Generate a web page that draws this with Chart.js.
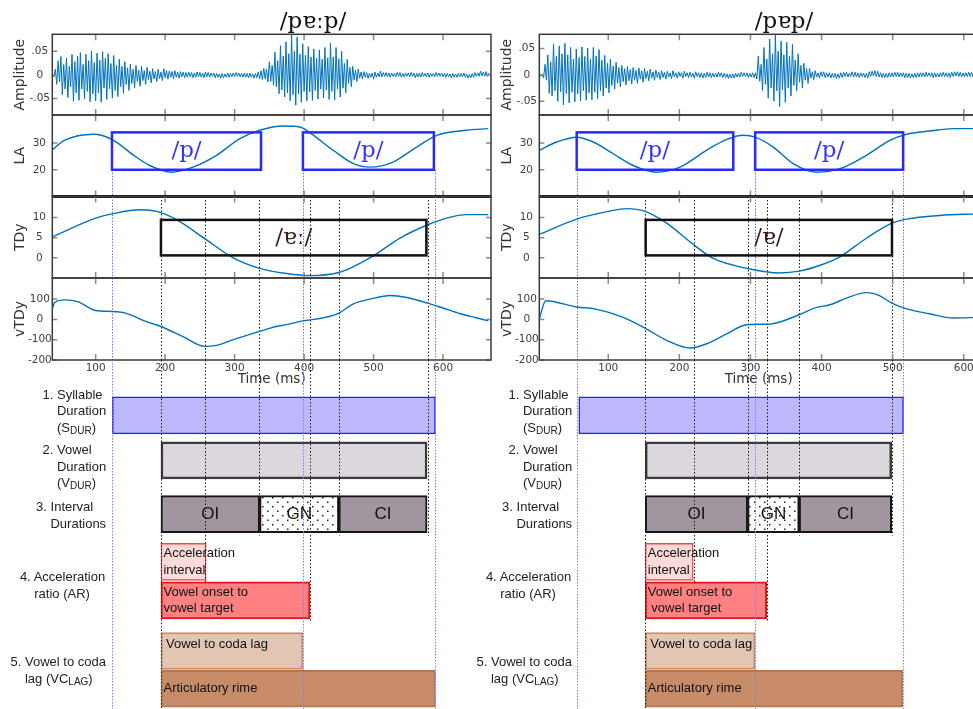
<!DOCTYPE html>
<html>
<head>
<meta charset="utf-8">
<script src="https://cdn.jsdelivr.net/npm/chart.js@4.4.1/dist/chart.umd.min.js"></script>
<style>
  html, body { margin: 0; padding: 0; background: #fff; }
  #fig { position: relative; width: 973px; height: 709px; overflow: hidden; background: #fff; }
  #fig canvas { position: absolute; top: 0; }
  .word { position: absolute; font: 23px "DejaVu Serif", serif; color: #111; transform: translate(-50%, -50%); white-space: nowrap; }
  .rowlab { position: absolute; font: 13px "Liberation Sans", Arial, sans-serif; color: #222; line-height: 16.5px;
            padding-left: 14.4px; text-indent: -14.4px; white-space: nowrap; }
  .rowlab sub { font-size: 10px; vertical-align: -2px; line-height: 0; }
</style>
</head>
<body>
<div id="fig"></div>
<script>
// ---------- shared ticks ----------
const timeTicks = [100, 200, 300, 400, 500, 600];
const ampTicks = [-50, 0, 50];            // amplitude in thousandths
const laTicks = [20, 30];
const tdyTicks = [0, 5, 10];
const vtdyTicks = [-200, -100, 0, 100];

// ---------- /pɐːp/ (left) ----------
const ampStartLong = 38, ampStepLong = 2;
const ampLong = [
  1, -4, 12, -20, 30, -15, 39, -42, 22, -30,
  36, -48, 18, -25, 43, -56, 28, -38, 40, -54,
  47, -30, 22, -51, 44, -35, 30, -57, 50, -40,
  26, -55, 46, -38, 31, -58, 49, -28, 35, -52,
  45, -30, 24, -49, 41, -33, 20, -46, 33, -25,
  18, -39, 28, -20, 15, -33, 23, -18, 12, -28,
  20, -14, 10, -24, 18, -12, 9, -20, 16, -10,
  8, -17, 13, -9, 7, -14, 12, -8, 6, -12,
  13, -6, 9, -9, 8, -5, 7, -8, 9, -5,
  6, -7, 7, -4, 6, -6, 5, -5, 6, -4,
  5, -6, 4, -5, 6, -4, 5, -5, 4, -6,
  6, -4, 5, -5, 4, -3, 4, -6, 3, -5,
  2, -7, 3, -6, 2, -5, 4, -5, 3, -4,
  4, -4, 5, -3, 4, -4, 3, -5, 4, -5,
  3, -6, 4, -5, 2, -7, 3, -6, 6, -8,
  9, -10, 14, -9, 12, -15, 28, -14, 20, -22,
  48, -25, 30, -40, 62, -32, 40, -47, 70, -38,
  45, -55, 85, -42, 50, -64, 80, -40, 44, -58,
  66, -35, 42, -55, 60, -36, 38, -54, 55, -33,
  35, -51, 53, -30, 33, -49, 58, -32, 36, -52,
  67, -35, 38, -53, 58, -30, 34, -47, 50, -28,
  24, -38, 33, -18, 16, -25, 18, -11, 10, -14,
  12, -7, 6, -9, 7, -5, 5, -7, 3, -5,
  4, -9, 6, -5, 4, -4, 8, -4, 5, -3,
  5, -4, 4, -5, 4, -3, 3, -4, 5, -3,
  5, -5, 3, -4, 4, -3, 4, -4, 5, -3,
  4, -6, 3, -4, 4, -5, 5, -3, 3, -4,
  4, -5, 3, -3, 3, -4, 5, -3, 4, -3,
  4, -4, 3, -5, 3, -4, 2, -6, 3, -5,
  2, -5, 3, -4, 3, -4, 4, -5, 2, -7,
  1, -6, 3, -5, 5, -3, 4, -3, 8, -2,
  6, -3, 7, -3, 4
];
const laTimeLong = [38, 55, 97, 124, 155, 178, 209, 240, 274, 307, 336, 370, 394, 410, 442, 471, 495, 528, 562, 591, 634, 665];
const laLong = [27.6, 31.0, 33.3, 31.3, 25.4, 21.6, 19.1, 21.0, 25.4, 31.6, 34.8, 36.4, 36.0, 33.5, 27.3, 22.3, 21.0, 22.9, 28.5, 32.9, 34.8, 35.4];
const tdyTimeLong = [39, 100, 124, 164, 188, 217, 257, 298, 336, 375, 408, 449, 471, 499, 538, 578, 605, 634, 665];
const tdyLong = [5.3, 9.85, 10.9, 11.9, 11.5, 9.4, 4.75, 0, -2.6, -3.9, -4.4, -3.7, -2.2, 0.4, 4.9, 8.2, 9.85, 10.7, 10.7];
const vtdyTimeLong = [38, 41, 55, 74, 100, 124, 143, 172, 194, 225, 257, 274, 298, 336, 360, 375, 398, 427, 450, 471, 495, 524, 548, 578, 600, 625, 649, 665];
const vtdyLong = [56, 83, 96, 88, 44, 39, 31, -10, -35, -84, -133, -128, -100, -59, -35, -26, -7, 7, 31, 77, 100, 118, 108, 80, 56, 28, 7, -7];
const pGesturesLong = [[123.5, 338], [398.3, 586.8]];
const vowelGestureLong = [194, 576];
const blueLinesLong = [123.5, 398.3, 588.6];
const blackLinesLong = [194, 257.3, 335, 408.8, 450, 577.7];
const blackEndsLong = ['rime', 'accel', 'interval', 'onset', 'interval', 'interval'];

// ---------- /pɐp/ (right) ----------
const ampStartShort = 3, ampStepShort = 2;
const ampShort = [
  0, -3, 2, -6, 20, -10, 38, -35, 25, -40,
  58, -30, 35, -50, 55, -32, 40, -57, 60, -35,
  38, -53, 52, -33, 30, -51, 49, -36, 33, -49,
  53, -30, 35, -48, 51, -34, 30, -47, 52, -33,
  36, -45, 48, -30, 28, -40, 37, -25, 22, -34,
  30, -20, 17, -27, 24, -16, 14, -23, 18, -13,
  12, -19, 16, -11, 10, -17, 14, -10, 9, -16,
  13, -8, 8, -14, 12, -7, 7, -11, 11, -6,
  6, -10, 9, -5, 5, -9, 8, -5, 5, -8,
  7, -4, 4, -7, 8, -4, 4, -6, 6, -3,
  4, -6, 7, -3, 4, -5, 5, -4, 3, -6,
  6, -3, 4, -5, 4, -6, 3, -5, 5, -4,
  4, -5, 3, -4, 3, -4, 5, -3, 4, -5,
  3, -5, 2, -7, 1, -6, 2, -6, 3, -4,
  3, -4, 5, -3, 4, -3, 4, -5, 3, -4,
  4, -5, 4, -8, 36, -12, 20, -30, 52, -18,
  30, -44, 68, -25, 40, -50, 75, -30, 45, -60,
  64, -28, 38, -52, 62, -25, 35, -40, 58, -20,
  28, -30, 40, -14, 18, -25, 22, -10, 12, -16,
  12, -6, 6, -9, 8, -4, 4, -6, 6, -3,
  6, -5, 4, -4, 4, -6, 3, -5, 3, -7,
  2, -6, 4, -5, 5, -3, 5, -4, 3, -3,
  6, -4, 5, -4, 4, -5, 4, -3, 3, -5,
  3, -6, 6, -3, 7, -2, 8, -3, 7, -4,
  4, -5, 3, -5, 3, -5, 4, -4, 4, -4,
  5, -3, 5, -4, 4, -3, 4, -5, 3, -5,
  3, -6, 2, -5, 3, -5, 4, -4, 4, -3,
  4, -4, 5, -3, 4, -3, 4, -5, 4, -4,
  3, -4, 4, -3, 5, -3, 4, -4, 4, -5,
  5, -3, 6, -2, 6, -3, 5, -4, 4, -3,
  4, -3, 5, -3, 5, -4, 4, -3, 3
];
const laTimeShort = [3, 27.5, 55.6, 79, 107, 135, 168, 201, 238, 266, 290, 306.6, 332, 360, 393, 426, 463, 496, 519.5, 552, 585, 620];
const laShort = [27.3, 30.4, 32.2, 30.4, 26, 21.6, 19.1, 21, 27.3, 31.3, 32.9, 32.2, 28.5, 22.3, 19.1, 20.4, 25.4, 31.0, 33.3, 34.5, 35.4, 35.4];
const tdyTimeShort = [3, 55.6, 100, 126, 151.6, 182, 220.5, 247.6, 296, 341, 368.5, 402, 425.7, 463, 498.8, 519.5, 566, 620];
const tdyShort = [5.8, 9.6, 11.5, 12.2, 11.5, 8.6, 3.2, -0.15, -2.65, -3.75, -3.3, -1.6, 0.25, 4.85, 8.6, 9.6, 10.5, 10.9];
const vtdyTimeShort = [3, 12, 55.6, 81, 121, 151.6, 182, 215, 238.4, 266.6, 295, 327.5, 368.5, 393, 411.7, 435, 463, 482, 498.8, 519.5, 552, 585, 620];
const vtdyShort = [2, 92, 61, 52, 10, -43, -103, -141, -120, -71, -26, -23, 23, 59, 72, 105, 132, 116, 80, 52, 28, 7, 10];
const pGesturesShort = [[55.6, 275.8], [306.6, 514.7]];
const vowelGestureShort = [152.6, 499];
const blueLinesShort = [55.6, 306.6, 514.7];
const blackLinesShort = [151.6, 220.5, 296, 323.6, 368.5, 498.8];
const blackEndsShort = ['rime', 'accel', 'interval', 'onset', 'interval', 'interval'];

// ---------- measures (bottom diagram) ----------
const measureNames = ['Syllable duration', 'Vowel duration', 'OI', 'GN', 'CI',
  'Acceleration interval', 'Vowel onset to vowel target', 'Vowel to coda lag', 'Articulatory rime'];
const measureRows = ['syll', 'vowel', 'interval', 'interval', 'interval', 'accel', 'onset', 'lag', 'rime'];
const measuresLong = [[124, 589], [194, 577], [194, 336], [336, 450], [450, 577], [194, 259], [194, 408.5], [194, 398.5], [194, 589]];
const measuresShort = [[58.6, 515.3], [152, 498.6], [152, 296], [296, 368.5], [368.5, 498.6], [152, 219.5], [152, 322.8], [152, 306.6], [152, 514]];
const measureTextLong = [null, null, ['OI'], ['GN'], ['CI'], ['Acceleration', 'interval'], ['Vowel onset to', 'vowel target'], ['Vowel to coda lag'], ['Articulatory rime']];
const measureTextShort = [null, null, ['OI'], ['GN'], ['CI'], ['Acceleration', 'interval'], ['Vowel onset to', ' vowel target'], ['Vowel to coda lag'], ['Articulatory rime']];
const rowLabels = [
  '1. Syllable<br>Duration<br>(S<sub>DUR</sub>)',
  '2. Vowel<br>Duration<br>(V<sub>DUR</sub>)',
  '3. Interval<br>Durations',
  '4. Acceleration<br>ratio (AR)',
  '5. Vowel to coda<br>lag (VC<sub>LAG</sub>)'
];

// ---------- layout & style ----------
const W = 500, H = 709, AXIS_W = 52.3, PLOT_R = 491, X_AXIS_H = 30;
const bands = { amp: [34.3, 115], la: [115, 196.5], tdy: [196.5, 278], vtdy: [278, 360] };
const BAR_TOP = 378.3, BAR_H = 37, ROW_MAX = -1 + (H - BAR_TOP) / BAR_H;
const rowLevel = { syll: 0, vowel: 1.22, interval: 2.67, accel: 3.96, onset: 5.0, lag: 6.37, rime: 7.39 };
const rowLabelPos = [[57, 395], [57, 450.7], [50.5, 507.7], [34.3, 577.7], [25, 662.7]];
const pBoxRange = [20, 34], vowelBoxRange = [0.6, 9.4];
const LINE_BLUE = '#0072bd';
const measureFill = ['#bdb7fc', '#dbd7dc', '#a1959f', 'dots', '#a1959f', '#fcdada', '#ff8181', '#e3c5b4', '#c88c68'];
const measureEdge = ['#2a20f5', '#3c3c3c', '#151515', '#151515', '#151515', '#f04848', '#e01818', '#c98d69', '#b9764f'];
const measureEdgeW = [1.5, 2.5, 2, 2, 2, 1.5, 2, 2, 2];

const panels = [
  { word: '/pɐːp/', wordX: 313, left: 0, xMin: 37.6, xMax: 669, ampRange: [-85, 86],
    amp: ampLong, ampStart: ampStartLong, ampStep: ampStepLong,
    laT: laTimeLong, la: laLong, tdyT: tdyTimeLong, tdy: tdyLong, vT: vtdyTimeLong, v: vtdyLong,
    pGestures: pGesturesLong, vowelGesture: vowelGestureLong, vowelLabel: '/ɐː/',
    blue: blueLinesLong, black: blackLinesLong, blackEnds: blackEndsLong,
    measures: measuresLong, texts: measureTextLong, labelShift: 0 },
  { word: '/pɐp/', wordX: 784, left: 487, xMin: 3, xMax: 620, ampRange: [-76, 77],
    amp: ampShort, ampStart: ampStartShort, ampStep: ampStepShort,
    laT: laTimeShort, la: laShort, tdyT: tdyTimeShort, tdy: tdyShort, vT: vtdyTimeShort, v: vtdyShort,
    pGestures: pGesturesShort, vowelGesture: vowelGestureShort, vowelLabel: '/ɐ/',
    blue: blueLinesShort, black: blackLinesShort, blackEnds: blackEndsShort,
    measures: measuresShort, texts: measureTextShort, labelShift: 466 }
];

Chart.defaults.font.family = '"DejaVu Sans", sans-serif';
Chart.defaults.color = '#404040';

const fig = document.getElementById('fig');
function addCanvas(left) {
  const c = document.createElement('canvas');
  c.width = W; c.height = H;
  c.style.left = left + 'px'; c.style.width = W + 'px'; c.style.height = H + 'px';
  fig.appendChild(c);
  return c;
}

function dotted(ctx, x, y0, y1, color, dash) {
  ctx.save();
  ctx.strokeStyle = color; ctx.lineWidth = 1; ctx.setLineDash(dash);
  ctx.beginPath(); ctx.moveTo(Math.round(x) + 0.5, y0); ctx.lineTo(Math.round(x) + 0.5, y1); ctx.stroke();
  ctx.restore();
}

// frame, inward ticks, landmark lines and gesture boxes of one signal panel
const signalDecor = {
  id: 'decor',
  beforeDatasetsDraw(chart, args, o) {
    const { ctx, chartArea: a, scales: { x, y } } = chart;
    ctx.save();
    ctx.beginPath(); ctx.rect(a.left, a.top, a.width, a.height); ctx.clip();
    (o.black || []).forEach(t => dotted(ctx, x.getPixelForValue(t), a.top, a.bottom, '#1a1a1a', [1.5, 2]));
    const y0 = o.blueFrom == null ? a.top : y.getPixelForValue(o.blueFrom);
    (o.blue || []).forEach(t => dotted(ctx, x.getPixelForValue(t), y0, a.bottom, '#6a6aff', [1.5, 1.5]));
    ctx.restore();
  },
  afterDatasetsDraw(chart, args, o) {
    const { ctx, chartArea: a, scales: { x, y } } = chart;
    ctx.save();
    (o.boxes || []).forEach(b => {
      const x0 = x.getPixelForValue(b.x[0]), x1 = x.getPixelForValue(b.x[1]);
      const y0 = y.getPixelForValue(b.y[1]), y1 = y.getPixelForValue(b.y[0]);
      ctx.lineWidth = 2.5; ctx.strokeStyle = b.color;
      ctx.strokeRect(x0, y0, x1 - x0, y1 - y0);
      ctx.fillStyle = b.textColor; ctx.font = '23px "DejaVu Serif", serif';
      ctx.textAlign = 'center'; ctx.textBaseline = 'middle';
      ctx.fillText(b.text, (x0 + x1) / 2, (y0 + y1) / 2);
    });
    ctx.strokeStyle = '#8a8a8a'; ctx.lineWidth = 1.5;
    ctx.beginPath();
    timeTicks.forEach(t => {
      const px = x.getPixelForValue(t);
      if (px < a.left || px > a.right) return;
      ctx.moveTo(px, a.top); ctx.lineTo(px, a.top + 6);
      ctx.moveTo(px, a.bottom); ctx.lineTo(px, a.bottom - 6);
    });
    o.yTicks.forEach(v => {
      const py = y.getPixelForValue(v);
      ctx.moveTo(a.left, py); ctx.lineTo(a.left + 5, py);
      ctx.moveTo(a.right, py); ctx.lineTo(a.right - 5, py);
    });
    ctx.stroke();
    ctx.strokeStyle = '#3a3a3a'; ctx.lineWidth = 1.5;
    ctx.strokeRect(a.left, a.top, a.width, a.height);
    if (o.heavyBottom) {
      ctx.strokeStyle = '#222'; ctx.lineWidth = 3;
      ctx.beginPath(); ctx.moveTo(a.left, a.bottom); ctx.lineTo(a.right, a.bottom); ctx.stroke();
    }
    ctx.restore();
  }
};

function signalChart(p, band, cfg) {
  const showX = !!cfg.showX;
  return new Chart(addCanvas(p.left), {
    type: 'line',
    data: { datasets: [{
      data: cfg.points, borderColor: LINE_BLUE, borderWidth: cfg.lw, pointRadius: 0,
      tension: 0, cubicInterpolationMode: cfg.smooth ? 'monotone' : 'default'
    }] },
    options: {
      responsive: false, animation: false, devicePixelRatio: 1, events: [],
      layout: { padding: { left: 0, right: W - PLOT_R, top: band[0], bottom: H - band[1] - (showX ? X_AXIS_H : 0) } },
      plugins: { legend: { display: false }, tooltip: { enabled: false }, decor: cfg.decor },
      scales: {
        x: {
          type: 'linear', min: p.xMin, max: p.xMax, display: showX,
          afterBuildTicks: s => { s.ticks = timeTicks.map(v => ({ value: v })); },
          afterFit: s => { s.height = showX ? X_AXIS_H : 0; },
          grid: { display: false, drawTicks: false }, border: { display: false },
          ticks: { padding: 2, font: { size: 10.5 }, color: '#404040', maxRotation: 0 },
          title: { display: true, text: 'Time (ms)', font: { size: 13.5 }, color: '#333', padding: { top: 0, bottom: 2 } }
        },
        y: {
          type: 'linear', min: cfg.range[0], max: cfg.range[1],
          afterBuildTicks: s => { s.ticks = cfg.ticks.map(v => ({ value: v })); },
          afterFit: s => { s.width = AXIS_W; },
          grid: { display: false, drawTicks: false }, border: { display: false },
          ticks: { padding: cfg.tickPad, crossAlign: 'center', font: { size: 10.5 }, color: '#404040',
                   callback: cfg.fmt || (v => String(v)) },
          title: { display: true, text: cfg.title, font: { size: 14 }, color: '#333', padding: { top: 11.5, bottom: 0 } }
        }
      }
    },
    plugins: [signalDecor]
  });
}

// landmark lines, labels inside bars
const barDecor = {
  id: 'bardecor',
  afterDatasetsDraw(chart, args, o) {
    const { ctx, scales: { x, y } } = chart;
    const bottomOf = row => y.getPixelForValue(rowLevel[row]) + BAR_H / 2 + 3;
    o.black.forEach((t, i) => dotted(ctx, x.getPixelForValue(t), bands.vtdy[1], bottomOf(o.blackEnds[i]), '#1a1a1a', [1.5, 2]));
    o.blue.forEach(t => dotted(ctx, x.getPixelForValue(t), bands.vtdy[1], H, '#7b7bff', [1.5, 1.5]));
    const meta = chart.getDatasetMeta(0);
    ctx.save();
    ctx.fillStyle = '#111'; ctx.textBaseline = 'middle';
    meta.data.forEach((el, i) => {
      const lines = o.texts[i];
      if (!lines) return;
      const left = Math.min(el.x, el.base), right = Math.max(el.x, el.base);
      if (measureRows[i] === 'interval') {
        ctx.font = '17px "Liberation Sans", Arial, sans-serif'; ctx.textAlign = 'center';
        ctx.fillText(lines[0], (left + right) / 2, el.y);
        return;
      }
      ctx.font = '13px "Liberation Sans", Arial, sans-serif'; ctx.textAlign = 'left';
      const lag = measureRows[i] === 'lag';
      const y0 = lag ? el.y - BAR_H / 2 + 12 : el.y - (lines.length - 1) * 16.3 / 2;
      lines.forEach((s, k) => ctx.fillText(s, left + (lag ? 5 : 2.5), y0 + k * 16.3));
    });
    ctx.restore();
  }
};

const dotTile = document.createElement('canvas');
dotTile.width = 10; dotTile.height = 9;
(() => {
  const g = dotTile.getContext('2d');
  g.fillStyle = '#fff'; g.fillRect(0, 0, 10, 9);
  g.fillStyle = '#222'; g.fillRect(2, 2, 1.5, 1.5); g.fillRect(7, 6.5, 1.5, 1.5);
})();

function barChart(p) {
  const canvas = addCanvas(p.left);
  const dots = canvas.getContext('2d').createPattern(dotTile, 'repeat');
  return new Chart(canvas, {
    type: 'bar',
    data: {
      labels: measureNames,
      datasets: [{
        data: p.measures.map((m, i) => ({ x: m, y: rowLevel[measureRows[i]] })),
        backgroundColor: measureFill.map(f => f === 'dots' ? dots : f),
        borderColor: measureEdge, borderWidth: measureEdgeW, borderSkipped: false,
        barThickness: BAR_H, grouped: false
      }]
    },
    options: {
      indexAxis: 'y', responsive: false, animation: false, devicePixelRatio: 1, events: [],
      layout: { padding: { left: AXIS_W, right: W - PLOT_R, top: BAR_TOP, bottom: 0 } },
      plugins: { legend: { display: false }, tooltip: { enabled: false },
        bardecor: { blue: p.blue, black: p.black, blackEnds: p.blackEnds, texts: p.texts } },
      scales: {
        x: { type: 'linear', min: p.xMin, max: p.xMax, display: false, offset: false },
        y: { type: 'linear', min: -1, max: ROW_MAX, reverse: true, display: false, offset: false }
      }
    },
    plugins: [barDecor]
  });
}

const ampFmt = v => v === 0 ? '0' : (v > 0 ? '.0' + v / 10 : '-.0' + (-v / 10));
const pairs = (ts, vs) => ts.map((t, i) => ({ x: t, y: vs[i] }));

panels.forEach(p => {
  signalChart(p, bands.amp, {
    points: p.amp.map((v, i) => ({ x: p.ampStart + i * p.ampStep, y: v })),
    lw: 1, range: p.ampRange, ticks: ampTicks, fmt: ampFmt, tickPad: 2.3, title: 'Amplitude',
    decor: { yTicks: ampTicks }
  });
  signalChart(p, bands.la, {
    points: pairs(p.laT, p.la), lw: 1.4, smooth: true, range: [10, 40.5], ticks: laTicks, tickPad: 6.3, title: 'LA',
    decor: { yTicks: laTicks, blue: p.blue, blueFrom: pBoxRange[0], heavyBottom: true,
      boxes: p.pGestures.map(g => ({ x: g, y: pBoxRange, color: '#2a2aff', text: '/p/', textColor: '#3535ff' })) }
  });
  signalChart(p, bands.tdy, {
    points: pairs(p.tdyT, p.tdy), lw: 1.4, smooth: true, range: [-5, 15.2], ticks: tdyTicks, tickPad: 6.3, title: 'TDy',
    decor: { yTicks: tdyTicks, blue: p.blue, black: p.black,
      boxes: [{ x: p.vowelGesture, y: vowelBoxRange, color: '#111', text: p.vowelLabel, textColor: '#3a1d1d' }] }
  });
  signalChart(p, bands.vtdy, {
    points: pairs(p.vT, p.v), lw: 1.4, smooth: true, range: [-200, 204], ticks: vtdyTicks, tickPad: 0.5, title: 'vTDy',
    showX: true, decor: { yTicks: vtdyTicks, blue: p.blue, black: p.black }
  });
  barChart(p);

  const w = document.createElement('div');
  w.className = 'word'; w.textContent = p.word;
  w.style.left = p.wordX + 'px'; w.style.top = '20px';
  fig.appendChild(w);

  rowLabels.forEach((html, i) => {
    const d = document.createElement('div');
    d.className = 'rowlab'; d.innerHTML = html;
    d.style.left = (rowLabelPos[i][0] + p.labelShift - 14.4) + 'px';
    d.style.top = (rowLabelPos[i][1] - 8.25) + 'px';
    fig.appendChild(d);
  });
});
</script>
</body>
</html>
